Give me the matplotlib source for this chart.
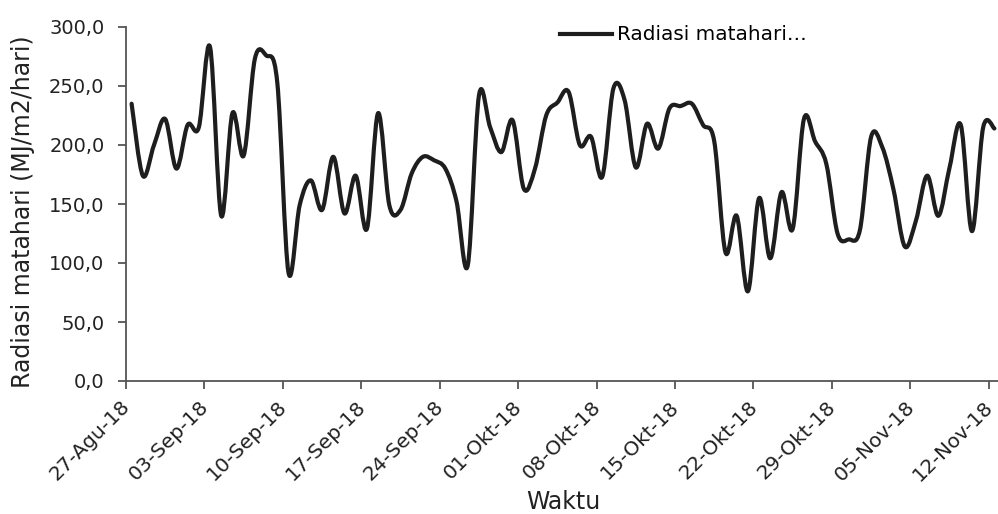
import numpy as np
import matplotlib
matplotlib.use("Agg")
import matplotlib.pyplot as plt
import matplotlib.dates as mdates
import matplotlib.transforms as mtransforms
from matplotlib.path import Path
from matplotlib.patches import PathPatch
from matplotlib.lines import Line2D
import datetime as dt

# daily solar radiation, 27-Aug-18 .. 12-Nov-18
start_date = dt.datetime(2018, 8, 27)
radiasi = [235, 174, 200, 222, 180, 217, 215, 283, 140, 227,
           191, 273, 276, 253, 92, 149, 170, 145, 190, 142,
           174, 129, 227, 149, 145, 176, 190, 187, 180, 152,
           98, 242, 215, 194, 221, 163, 180, 225, 236, 245,
           200, 207, 173, 248, 238, 181, 218, 197, 231, 233,
           235, 217, 203, 109, 140, 76, 155, 104, 160, 129,
           222, 203, 184, 125, 120, 128, 207, 198, 162, 114,
           136, 174, 140, 181, 217, 127, 215, 214]
tick_labels = ["27-Agu-18", "03-Sep-18", "10-Sep-18", "17-Sep-18",
               "24-Sep-18", "01-Okt-18", "08-Okt-18", "15-Okt-18",
               "22-Okt-18", "29-Okt-18", "05-Nov-18", "12-Nov-18"]
y_ticks = [0, 50, 100, 150, 200, 250, 300]

plt.rcParams['font.family'] = ['DejaVu Sans']
line_col = '#1e1e1e'
text_col = '#222222'

fig = plt.figure(figsize=(9.98, 5.14), dpi=100)
ax = fig.add_axes([126 / 998, 133 / 514, 874 / 998, 354 / 514])

# data points sit in the middle of each day (Excel date axis)
days = [start_date + dt.timedelta(days=i, hours=12) for i in range(len(radiasi))]
xs = mdates.date2num(days)
ys = np.array(radiasi, dtype=float)

# smoothed line like Excel: cubic Bezier segments through every point
verts = [(xs[0], ys[0])]
codes = [Path.MOVETO]
n = len(xs)
for i in range(n - 1):
    x0, y0 = (xs[i - 1], ys[i - 1]) if i > 0 else (xs[i], ys[i])
    x1, y1 = xs[i], ys[i]
    x2, y2 = xs[i + 1], ys[i + 1]
    x3, y3 = (xs[i + 2], ys[i + 2]) if i + 2 < n else (x2, y2)
    verts += [(x1 + (x2 - x0) / 6, y1 + (y2 - y0) / 6),
              (x2 - (x3 - x1) / 6, y2 - (y3 - y1) / 6),
              (x2, y2)]
    codes += [Path.CURVE4] * 3
ax.add_patch(PathPatch(Path(verts, codes), facecolor='none', edgecolor=line_col,
                       lw=3.0, capstyle='round', joinstyle='round', clip_on=False))

tick_dates = [start_date + dt.timedelta(days=7 * k) for k in range(len(tick_labels))]
ax.set_xlim(mdates.date2num(start_date), mdates.date2num(start_date + dt.timedelta(days=78)))
ax.set_xticks(mdates.date2num(tick_dates))
ax.set_ylim(0, 300)
ax.set_yticks(y_ticks)
ax.set_yticklabels([f"{v:.1f}".replace('.', ',') for v in y_ticks], fontsize=14)

for side in ['top', 'right']:
    ax.spines[side].set_visible(False)
for side in ['left', 'bottom']:
    ax.spines[side].set_color('#555555')
    ax.spines[side].set_linewidth(1.3)
ax.tick_params(axis='both', direction='out', length=5.5, width=1.3, color='#555555',
               labelcolor=text_col)
ax.tick_params(axis='x', pad=6)
ax.tick_params(axis='y', pad=10)

ax.set_xticklabels(tick_labels, rotation=45, ha='right', rotation_mode='anchor', fontsize=14.5)
# nudge the rotated date labels a little left so the last one stays in the picture
# (done after tick_params, which resets the label transforms)
shift = mtransforms.ScaledTranslation(-4 / 72, 0, fig.dpi_scale_trans)
for lab in ax.get_xticklabels():
    lab.set_transform(lab.get_transform() + shift)

ax.set_xlabel("Waktu", fontsize=17, color=text_col, va='center')
ax.xaxis.set_label_coords(0.5, (381 - 502) / 354)
ax.set_ylabel("Radiasi matahari (MJ/m2/hari)", fontsize=17, color=text_col,
              va='center')
ax.yaxis.set_label_coords((23 - 126) / 874, (381 - 212) / 354)

handle = Line2D([], [], color=line_col, lw=3.0)
ax.legend([handle], ["Radiasi matahari\u2026"], loc='center left',
          bbox_to_anchor=(560 / 998, 1 - 35 / 514), bbox_transform=fig.transFigure,
          frameon=False, fontsize=14.4, handlelength=2.6, handletextpad=0.25,
          borderpad=0, borderaxespad=0)

fig.savefig("out.png", dpi=100)
